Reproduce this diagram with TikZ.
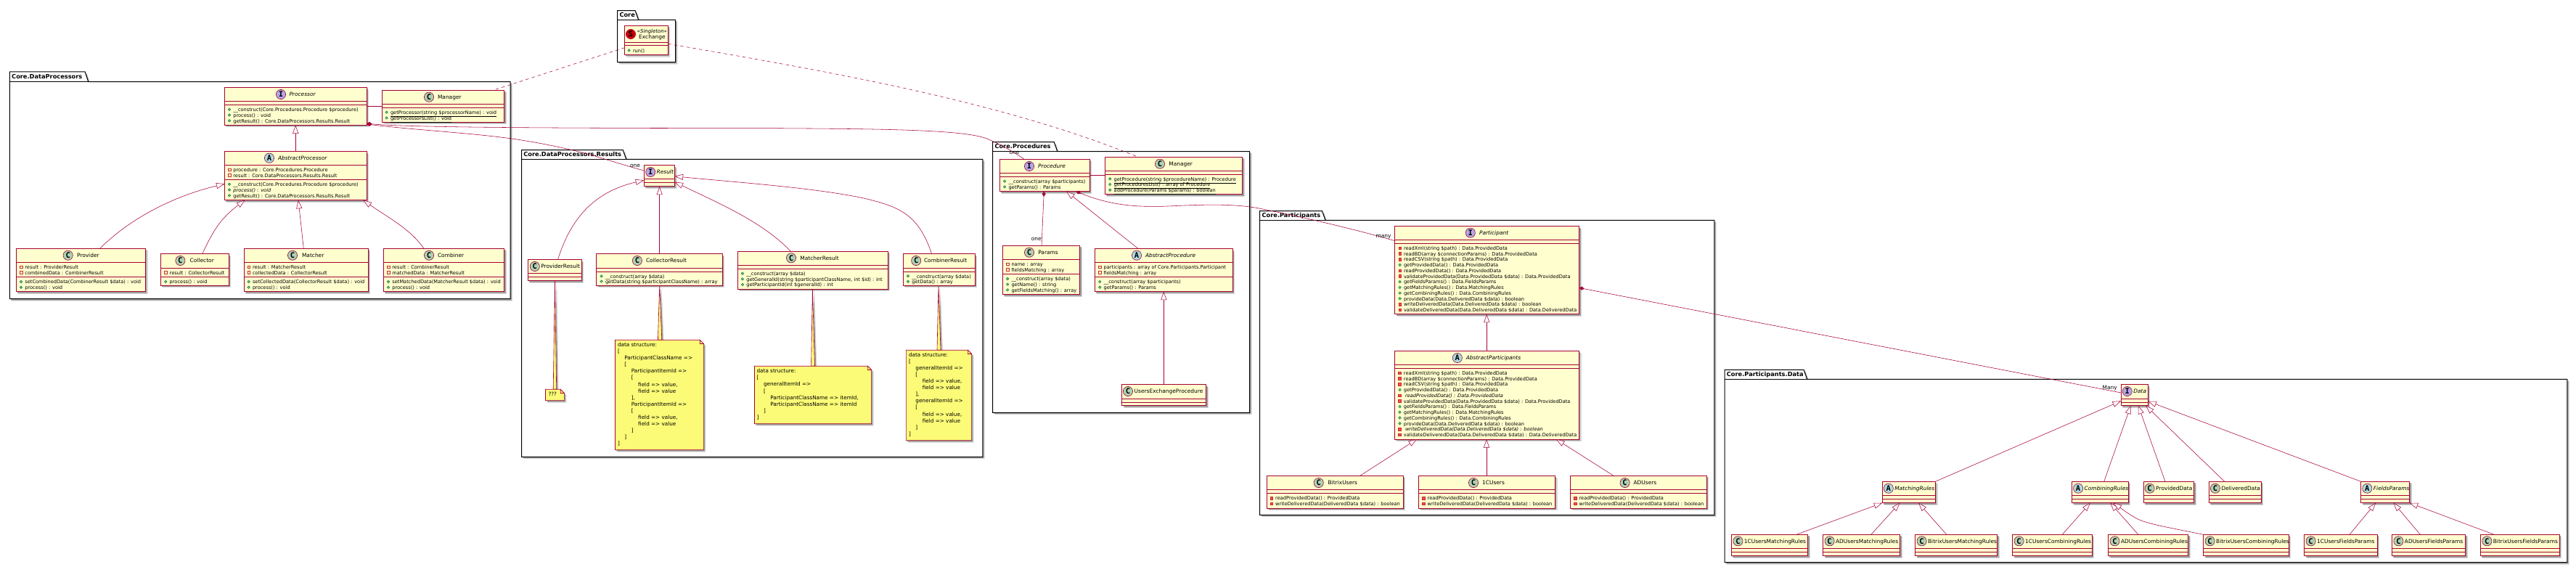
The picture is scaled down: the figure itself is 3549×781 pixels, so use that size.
\documentclass[tikz,border=0pt]{standalone}
\usepackage{fontspec}
\setmainfont{DejaVu Sans}
\setmonofont{DejaVu Sans Mono}
\usetikzlibrary{arrows.meta,shadows}
\definecolor{umlred}{HTML}{A80036}
\definecolor{umlfill}{HTML}{FEFECE}
\definecolor{notefill}{HTML}{FBFB77}
\definecolor{spotC}{HTML}{ADD1B2}
\definecolor{spotI}{HTML}{B4A7E5}
\definecolor{spotA}{HTML}{A9DCDF}
\definecolor{spotS}{HTML}{CC0000}
\definecolor{privline}{HTML}{C82930}
\definecolor{privfill}{HTML}{F24D5C}
\definecolor{publine}{HTML}{038048}
\definecolor{pubfill}{HTML}{84BE84}
\tikzset{
  softshadow/.style={
    drop shadow={shadow xshift=2.9pt,shadow yshift=-2.9pt,opacity=.25,fill=black!60},
    drop shadow={shadow xshift=1.8pt,shadow yshift=-1.8pt,opacity=.55,fill=black!55}},
  clsbox/.style={draw=umlred,line width=1pt,fill=umlfill,inner sep=0pt,outer sep=0pt,softshadow},
  divider/.style={draw=umlred,line width=1pt},
  pkgbox/.style={draw=black,line width=1pt,fill=white,softshadow},
  pkgline/.style={draw=black,line width=.9pt},
  spot/.style={circle,draw=umlred,line width=.6pt,minimum size=13.2pt,inner sep=0pt,
    font=\fontsize{10.5}{10.5}\selectfont\ttfamily\bfseries},
  txtst/.style={anchor=mid west,inner sep=0pt,outer sep=0pt,text=black,font=\fontsize{6.62}{7.7}\selectfont},
  titlest/.style={anchor=mid west,inner sep=0pt,outer sep=0pt,text=black,font=\fontsize{7.45}{9}\selectfont},
  pkgtitle/.style={anchor=mid west,inner sep=0pt,outer sep=0pt,text=black,font=\fontsize{8.25}{10}\selectfont\bfseries},
  mult/.style={inner sep=0pt,outer sep=0pt,text=black,font=\fontsize{7.45}{9}\selectfont},
  notetext/.style={anchor=north west,inner sep=0pt,outer sep=0pt,text=black,align=left,font=\fontsize{7.25}{9.09}\selectfont},
  notebox/.style={draw=umlred,line width=.62pt,fill=notefill,softshadow},
  notefold/.style={draw=umlred,line width=.62pt,fill=notefill},
  notecon/.style={draw=umlred,line width=.62pt,fill=notefill,softshadow},
  conn/.style={draw=umlred,line width=.55pt},
  ext/.style={conn,-{Triangle[length=11.5pt,width=8pt,fill=white]}},
  comp/.style={conn,{Diamond[length=7pt,width=5pt,fill=umlred]}-},
  dep/.style={conn,dash pattern=on 4.34pt off 4.34pt},
  pubdot/.style={draw=publine,fill=pubfill,line width=.5pt},
  privbox/.style={draw=privline,fill=privfill,line width=.5pt},
  privattr/.style={draw=privline,fill=none,line width=.5pt},
}
\newcounter{tn}
\newcommand\txt[3][txtst]{\stepcounter{tn}\node[#1] (t\arabic{tn}) at (#2) {#3};}
\newcommand\rowPM[3]{\draw[pubdot] ({#1-5.4},{#2}) circle[radius=1.8pt];\txt{#1,{#2}}{#3}}
\newcommand\rowPV[3]{\draw[privbox] ({#1-7.2},{#2-1.8}) rectangle ({#1-3.6},{#2+1.8});\txt{#1,{#2}}{#3}}
\newcommand\rowPA[3]{\draw[privattr] ({#1-7.2},{#2-1.8}) rectangle ({#1-3.6},{#2+1.8});\txt{#1,{#2}}{#3}}
% name x1 y1 x2 y2 d1 d2
\newcommand\cls[7]{%
  \node[clsbox,minimum width={(#4-#2)*1pt},minimum height={(#5-#3)*1pt}] (#1) at ({(#2+#4)/2},{(#3+#5)/2}) {};
  \draw[divider] (#1.west |- 0,#6) -- (#1.east |- 0,#6);
  \draw[divider] (#1.west |- 0,#7) -- (#1.east |- 0,#7);}
% name kind iconx icony titlex title
\newcommand\head[6]{%
  \node[spot,fill=spot#2] (#1icon) at (#3,#4) {#2};
  \txt[titlest]{#5,#4}{#6}}
% x1 tabtop tabright boxtop x2 y2 title name
\newcommand\pkg[8]{%
  \path[pkgbox] (#1,#2) -- ({#3-4.5},#2) -- (#3,#4) -- (#5,#4) -- (#5,#6) -- (#1,#6) -- cycle;
  \draw[pkgline] (#1,#4) -- (#3,#4);
  \node[pkgtitle] (#8) at ({#1+2.9},{(#2+#4)/2}) {#7};}
% name x1 y1 x2 y2
\newcommand\note[5]{%
  \node[inner sep=0pt,outer sep=0pt,minimum width={(#4-#2)*1pt},minimum height={(#5-#3)*1pt}] (#1) at ({(#2+#4)/2},{(#3+#5)/2}) {};
  \path[notebox] (#2,#3) -- ({#4-5.2},#3) -- (#4,{#3+5.2}) -- (#4,#5) -- (#2,#5) -- cycle;
  \path[notefold] ({#4-5.2},#3) -- ({#4-5.2},{#3+5.2}) -- (#4,{#3+5.2}) -- cycle;}
\newcommand\sI{\hspace*{9.4pt}}
\begin{document}
\begin{tikzpicture}[x=1pt,y=-1pt]
\useasboundingbox (0,0) rectangle (3549,781);
\fill[white] (0,0) rectangle (3549,781);

% ---------- packages
\pkg{850.6}{14.7}{879.6}{27.3}{930.5}{85.7}{Core}{pkgCore}
\pkg{13.3}{99}{121.7}{112.7}{703}{411.7}{Core.DataProcessors}{pkgDP}
\pkg{718.5}{206.7}{862.7}{219.3}{1353.8}{629.3}{Core.DataProcessors.Results}{pkgRes}
\pkg{1367.6}{195.7}{1456.7}{208.5}{1721.7}{568.3}{Core.Procedures}{pkgProc}
\pkg{1735.7}{290.7}{1826}{303.3}{2361.8}{709.3}{Core.Participants}{pkgPart}
\pkg{2376}{509.3}{2489.6}{522.3}{3536.8}{774.7}{Core.Participants.Data}{pkgData}

% ---------- Core
\cls{exch}{860.4}{35.3}{920.3}{75.7}{58.3}{62.3}
\node[spot,fill=spotS] (exchicon) at (869,47) {S};
\txt[titlest,anchor=mid,font={\fontsize{6.9}{9}\selectfont\itshape}]{898.4,42.7}{«Singleton»}
\txt[titlest,anchor=mid]{898.4,51}{Exchange}
\rowPM{872}{69.3}{run()}

% ---------- DataProcessors
\cls{proc}{309.5}{120.7}{505.5}{172.3}{139.3}{144.3}
\head{proc}{I}{387}{130}{398.5}{\itshape Processor}
\rowPM{321.4}{150.7}{\_\_construct(Core.Procedures.Procedure \$procedure)}
\rowPM{321.4}{158.5}{process() : void}
\rowPM{321.4}{166.3}{getResult() : Core.DataProcessors.Results.Result}

\cls{mgrDP}{526.6}{124.3}{694.7}{168.3}{143.3}{148.3}
\head{mgrDP}{C}{591}{133.7}{603}{Manager}
\rowPM{538}{154.7}{\underline{getProcessor(string \$processorName) : void}}
\rowPM{538}{162.3}{\underline{getProcessorsList() : void}}

\cls{abp}{309.5}{208.7}{505.5}{275.7}{227.7}{247.7}
\head{abp}{A}{371}{217.7}{383}{\itshape AbstractProcessor}
\rowPA{321.4}{233.7}{procedure : Core.Procedures.Procedure}
\rowPA{321.4}{241.4}{result : Core.DataProcessors.Results.Result}
\rowPM{321.4}{253.7}{\_\_construct(Core.Procedures.Procedure \$procedure)}
\rowPM{321.4}{261.5}{\itshape process() : void}
\rowPM{321.4}{269.3}{getResult() : Core.DataProcessors.Results.Result}

\cls{prov}{22.5}{342.3}{200.6}{401.7}{361.7}{381.7}
\head{prov}{C}{93.7}{351.7}{106}{Provider}
\rowPA{34.4}{367.7}{result : ProviderResult}
\rowPA{34.4}{375.5}{combinedData : CombinerResult}
\rowPM{34.4}{388}{setCombinedData(CombinerResult \$data) : void}
\rowPM{34.4}{395.7}{process() : void}

\cls{coll}{221.3}{349.7}{315.4}{393.3}{369.3}{381.7}
\head{coll}{C}{248.4}{359}{261.7}{Collector}
\rowPA{233.7}{375.5}{result : CollectorResult}
\rowPM{233.7}{388}{process() : void}

\cls{mat}{336.5}{342.3}{507.3}{401.7}{361.7}{381.7}
\head{mat}{C}{403}{351.7}{416}{Matcher}
\rowPA{348}{367.7}{result : MatcherResult}
\rowPA{348}{375.5}{collectedData : CollectorResult}
\rowPM{348}{388}{setCollectedData(CollectorResult \$data) : void}
\rowPM{348}{395.7}{process() : void}

\cls{comb}{528.5}{342.3}{694.7}{401.7}{361.7}{381.7}
\head{comb}{C}{591}{351.7}{603}{Combiner}
\rowPA{540.4}{367.7}{result : CombinerResult}
\rowPA{540.4}{375.5}{matchedData : MatcherResult}
\rowPM{540.4}{388}{setMatchedData(MatcherResult \$data) : void}
\rowPM{540.4}{395.7}{process() : void}

% ---------- Results
\cls{res}{887.2}{227.7}{929.6}{256.7}{246.7}{251.7}
\head{res}{I}{896.2}{237}{904.6}{\itshape Result}

\cls{rprov}{727.4}{357.7}{801.5}{386.7}{376.7}{381.7}
\head{rprov}{C}{736.8}{367}{745.3}{ProviderResult}

\cls{rcoll}{821.6}{349.7}{995.3}{393.3}{369.3}{374}
\head{rcoll}{C}{877.9}{359}{890}{CollectorResult}
\rowPM{834}{380.3}{\_\_construct(array \$data)}
\rowPM{834}{387.7}{getData(string \$participantClassName) : array}

\cls{rmat}{1016.3}{346.3}{1223.4}{398.3}{365.7}{370.3}
\head{rmat}{C}{1090}{355.3}{1102.4}{MatcherResult}
\rowPM{1028.3}{376.7}{\_\_construct(array \$data)}
\rowPM{1028.3}{384.4}{getGeneralId(string \$participantClassName, int \$id) : int}
\rowPM{1028.3}{392}{getParticipantId(int \$generalId) : int}

\cls{rcomb}{1244.4}{349.7}{1343.5}{393.3}{369.3}{374}
\head{rcomb}{C}{1262.2}{359}{1273}{CombinerResult}
\rowPM{1256.4}{380.3}{\_\_construct(array \$data)}
\rowPM{1256.4}{387.7}{getData() : array}

% notes: the wedge goes under the note
\path[notecon] (rprov.south -| 764.5,0) -- (762.2,536.3) -- (766.7,536.3) -- cycle;
\note{n1}{751.5}{536.3}{777.4}{551.7}
\txt[notetext]{755.5,540}{???}
\path[notecon] (rcoll.south -| 908.7,0) -- (906.4,468.3) -- (911.8,468.3) -- cycle;
\note{n2}{847.5}{468.3}{969.4}{619.7}
\txt[notetext]{851,472}{data structure:\\
{[}\\
\sI ParticipantClassName =>\\
\sI {[}\\
\sI\sI ParticipantItemId =>\\
\sI\sI {[}\\
\sI\sI\sI field => value,\\
\sI\sI\sI field => value\\
\sI\sI ],\\
\sI\sI ParticipantItemId =>\\
\sI\sI {[}\\
\sI\sI\sI field => value,\\
\sI\sI\sI field => value\\
\sI\sI ]\\
\sI ]\\
]}
\path[notecon] (rmat.south -| 1119.4,0) -- (1117.6,504.3) -- (1122.5,504.3) -- cycle;
\note{n3}{1039.5}{504.3}{1200.6}{583.7}
\txt[notetext]{1042.6,508.3}{data structure:\\
{[}\\
\sI generalItemId =>\\
\sI {[}\\
\sI\sI ParticipantClassName => itemId,\\
\sI\sI ParticipantClassName => itemId\\
\sI ]\\
]}
\path[notecon] (rcomb.south -| 1293,0) -- (1291,482.3) -- (1296,482.3) -- cycle;
\note{n4}{1248.4}{482.3}{1338.6}{606.7}
\txt[notetext]{1252,485.7}{data structure:\\
{[}\\
\sI generalItemId =>\\
\sI {[}\\
\sI\sI field => value,\\
\sI\sI field => value\\
\sI ],\\
\sI generalItemId =>\\
\sI {[}\\
\sI\sI field => value,\\
\sI\sI field => value\\
\sI ]\\
]}

% ---------- Procedures
\cls{pcd}{1377.4}{219.3}{1501.3}{263.7}{238.3}{243.3}
\head{pcd}{I}{1418}{229}{1430}{\itshape Procedure}
\rowPM{1389.5}{249.7}{\_\_construct(array \$participants)}
\rowPM{1389.5}{257.3}{getParams() : Params}

\cls{mgrP}{1522.3}{216.3}{1711.7}{267.7}{235.3}{240.3}
\head{mgrP}{C}{1598}{225.7}{1610.3}{Manager}
\rowPM{1534.7}{246.3}{\underline{getProcedure(string \$procedureName) : Procedure}}
\rowPM{1534.7}{254}{\underline{getProceduresList() : array of Procedure}}
\rowPM{1534.7}{261.7}{\underline{addProcedure(Params \$params) : boolean}}

\cls{par}{1381.4}{338.3}{1487.7}{405.7}{357.7}{377.7}
\head{par}{C}{1418}{347.7}{1430.3}{Params}
\rowPA{1393.5}{363.7}{name : array}
\rowPA{1393.5}{371.4}{fieldsMatching : array}
\rowPM{1393.5}{384}{\_\_construct(array \$data)}
\rowPM{1393.5}{391.7}{getName() : string}
\rowPM{1393.5}{399.3}{getFieldsMatching() : array}

\cls{abpc}{1508.3}{342.7}{1698.3}{401.7}{361.3}{381.3}
\head{abpc}{A}{1566}{351.7}{1578}{\itshape AbstractProcedure}
\rowPA{1520.7}{367.7}{participants : array of Core.Participants.Participant}
\rowPA{1520.7}{375.5}{fieldsMatching : array}
\rowPM{1520.7}{388}{\_\_construct(array \$participants)}
\rowPM{1520.7}{395.7}{getParams() : Params}

\cls{uep}{1545.7}{529.7}{1661.7}{558.7}{549.3}{554}
\head{uep}{C}{1554}{539}{1562.7}{UsersExchangeProcedure}

% ---------- Participants
\cls{part}{1921.7}{311.7}{2175.8}{432.7}{330.7}{335.7}
\head{part}{I}{2025.8}{320.7}{2038}{\itshape Participant}
\newcommand\partrows[4]{%
\rowPV{#1}{#2}{readXml(string \$path) : Data.ProvidedData}
\rowPV{#1}{#2+7.73}{readBD(array \$connectionParams) : Data.ProvidedData}
\rowPV{#1}{#2+7.73*2}{readCSV(string \$path) : Data.ProvidedData}
\rowPM{#1}{#2+7.73*3}{getProvidedData() : Data.ProvidedData}
\rowPV{#1}{#2+7.73*4}{#3 readProvidedData() : Data.ProvidedData}
\rowPV{#1}{#2+7.73*5}{validateProvidedData(Data.ProvidedData \$data) : Data.ProvidedData}
\rowPM{#1}{#2+7.73*6}{getFieldsParams() : Data.FieldsParams}
\rowPM{#1}{#2+7.73*7}{getMatchingRules() : Data.MatchingRules}
\rowPM{#1}{#2+7.73*8}{getCombiningRules() : Data.CombiningRules}
\rowPM{#1}{#2+7.73*9}{provideData(Data.DeliveredData \$data) : boolean}
\rowPV{#1}{#2+7.73*10}{#4 writeDeliveredData(Data.DeliveredData \$data) : boolean}
\rowPV{#1}{#2+7.73*11}{validateDeliveredData(Data.DeliveredData \$data) : Data.DeliveredData}}
\partrows{1934}{341.7}{}{}

\cls{abpt}{1921.6}{483.3}{2175.6}{605}{502.3}{507.3}
\head{abpt}{A}{2007.8}{493}{2019.8}{\itshape AbstractParticipants}
\partrows{1933.9}{513.7}{\itshape}{\itshape}

\newcommand\userrows[1]{%
\rowPV{#1}{686}{readProvidedData() : ProvidedData}
\rowPV{#1}{693.7}{writeDeliveredData(DeliveredData \$data) : boolean}}
\cls{ubx}{1745.2}{655.3}{1933.2}{700}{674.3}{679}
\head{ubx}{C}{1816.7}{665}{1829.6}{BitrixUsers}
\userrows{1757.2}
\cls{u1c}{1954.6}{655.3}{2142.6}{700}{674.3}{679}
\head{u1c}{C}{2030}{665}{2042.1}{1CUsers}
\userrows{1966.7}
\cls{uad}{2163.6}{655.3}{2351.5}{700}{674.3}{679}
\head{uad}{C}{2238.6}{665}{2250.6}{ADUsers}
\userrows{2175.6}

% ---------- Data
\cls{data}{2922.1}{529.7}{2959.3}{558.7}{549.3}{554}
\head{data}{I}{2930.7}{539}{2939.4}{\itshape Data}

\newcommand\midcls[6]{%
  \cls{#1}{#3}{663.3}{#4}{692.7}{682.3}{687.3}
  \head{#1}{#2}{{#3+8.5}}{672.7}{{#3+17.1}}{#5}}
\midcls{mr}{A}{2593.3}{2666.6}{\itshape MatchingRules}{}
\midcls{cr}{A}{2854.6}{2932.5}{\itshape CombiningRules}{}
\midcls{pd}{C}{2953.1}{3022.8}{ProvidedData}{}
\midcls{dd}{C}{3043.4}{3115.5}{DeliveredData}{}
\midcls{fp}{A}{3252.8}{3319.7}{\itshape FieldsParams}{}

\newcommand\lowcls[4]{%
  \cls{#1}{#2}{736.3}{#3}{765.7}{755.3}{760.3}
  \head{#1}{C}{{#2+8.9}}{745.3}{{#2+17.4}}{#4}}
\lowcls{m1}{2385.5}{2490.7}{1CUsersMatchingRules}
\lowcls{m2}{2511.7}{2617.7}{ADUsersMatchingRules}
\lowcls{m3}{2638.7}{2751.7}{BitrixUsersMatchingRules}
\lowcls{c1}{2772.7}{2882.5}{1CUsersCombiningRules}
\lowcls{c2}{2904.6}{3014.7}{ADUsersCombiningRules}
\lowcls{c3}{3035.7}{3153.4}{BitrixUsersCombiningRules}
\lowcls{f1}{3174.7}{3275.2}{1CUsersFieldsParams}
\lowcls{f2}{3295.5}{3396.7}{ADUsersFieldsParams}
\lowcls{f3}{3417.4}{3526.3}{BitrixUsersFieldsParams}

% ---------- connectors
\draw[dep] (exch.west |- 0,65.7) -- (mgrDP.north -| 679.5,0);
\draw[dep] (exch.east |- 0,60.3) .. controls (1150,100) and (1380,140) .. (mgrP.north -| 1568,0);

\draw[conn] (proc.east |- 0,146.3) -- (mgrDP.west |- 0,146.3);
\draw[ext] (abp.north -| 407.2,0) -- (proc.south -| 407.2,0);
\draw[ext] (prov.north -| 137.7,0) .. controls (180,300) and (240,270) .. (abp.west |- 0,253.3);
\draw[ext] (coll.north -| 278.7,0) .. controls (295,315) and (305,300) .. (abp.south -| 337.5,0);
\draw[ext] (mat.north -| 418.3,0) -- (abp.south -| 411,0);
\draw[ext] (comb.north -| 584,0) .. controls (565,315) and (535,300) .. (abp.south -| 500.5,0);

\draw[comp] (proc.east |- 0,170) .. controls (560,176) and (800,176.5) .. (1067,176.7)
   .. controls (1200,177.5) and (1320,178) .. (1357,190) .. controls (1375,197) and (1395,208) .. (pcd.north -| 1411,0);
\draw[comp] (proc.east |- 0,171) .. controls (570,179) and (650,183) .. (710,191.7)
   .. controls (745,197) and (780,204) .. (812.7,213) .. controls (840,221) and (865,229) .. (res.west |- 0,235);
\node[mult] (lblone1) at (875,228.7) {one};
\node[mult] (lblone2) at (1397.5,210.7) {one};

\draw[ext] (rprov.north -| 768.5,0) .. controls (785,305) and (815,265) .. (res.west |- 0,248.3);
\draw[ext] (rcoll.north -| 908.7,0) -- (res.south -| 908.7,0);
\draw[ext] (rmat.north -| 1089.5,0) .. controls (1050,305) and (990,280) .. (res.east |- 0,250.7);
\draw[ext] (rcomb.north -| 1283.7,0) .. controls (1265,295) and (1240,285) .. (1190,273) .. controls (1120,258) and (1000,250) .. (res.east |- 0,242.7);

\draw[conn] (pcd.east |- 0,241.3) -- (mgrP.west |- 0,241.3);
\draw[comp] (pcd.south -| 1438.3,0) -- (par.north -| 1435,0);
\node[mult] (lblone3) at (1427.7,329.3) {one};
\draw[ext] (abpc.north -| 1568.3,0) -- (pcd.south -| 1469.3,0);
\draw[ext] (uep.north -| 1603.3,0) -- (abpc.south -| 1603.3,0);
\draw[comp] (pcd.south -| 1482.7,0) .. controls (1530,283) and (1565,285) .. (1600,284.3)
   .. controls (1640,283) and (1690,279) .. (1733,286.7) .. controls (1790,298) and (1860,314) .. (part.west |- 0,331.7);
\node[mult] (lblmany) at (1906,325.7) {many};

\draw[ext] (abpt.north -| 2048.2,0) -- (part.south -| 2048.2,0);
\draw[ext] (ubx.north -| 1873.8,0) -- (abpt.south -| 1952,0);
\draw[ext] (u1c.north -| 2048,0) -- (abpt.south -| 2048,0);
\draw[ext] (uad.north -| 2223,0) -- (abpt.south -| 2144,0);
\draw[comp] (part.east |- 0,396.5) -- (data.west |- 0,541);
\node[mult] (lblMany) at (2906.6,534.3) {Many};

\draw[ext] (mr.north -| 2666.3,0) -- (data.west |- 0,552.3);
\draw[ext] (cr.north -| 2898.7,0) -- (data.south -| 2935.6,0);
\draw[ext] (pd.north -| 2983,0) -- (data.south -| 2945.9,0);
\draw[ext] (dd.north -| 3064.8,0) -- (data.south -| 2956.2,0);
\draw[ext] (fp.north west) -- (data.east |- 0,552.7);

\draw[ext] (m1.north -| 2475,0) -- (mr.south -| 2593.3,0);
\draw[ext] (m2.north -| 2577.8,0) -- (mr.south -| 2617.4,0);
\draw[ext] (m3.north -| 2681.8,0) -- (mr.south -| 2643.2,0);
\draw[ext] (c1.north -| 2841.2,0) -- (cr.south -| 2879.8,0);
\draw[ext] (c2.north -| 2945.9,0) -- (cr.south -| 2907.3,0);
\draw[ext] (c3.north west) .. controls (2990,727) and (2960,722) .. (2945.2,715) .. controls (2932,708) and (2922,700) .. (cr.south -| 2911.5,0);
\draw[ext] (f1.north -| 3237,0) -- (fp.south -| 3273.1,0);
\draw[ext] (f2.north -| 3334.4,0) -- (fp.south -| 3297.6,0);
\draw[ext] (f3.north -| 3436,0) -- (fp.south east);
\end{tikzpicture}
\end{document}
